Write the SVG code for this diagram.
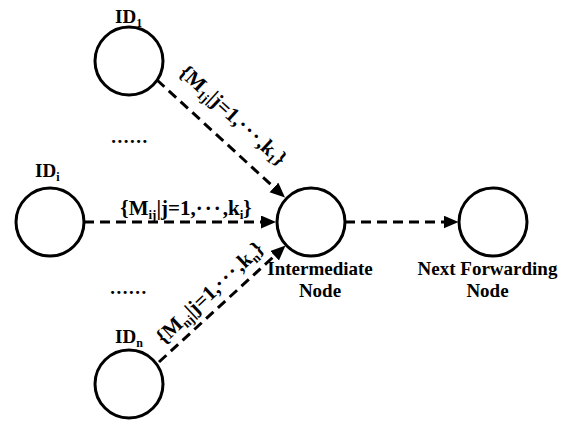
<svg xmlns="http://www.w3.org/2000/svg" width="566" height="421" viewBox="0 0 566 421">
<defs>
<marker id="arr" markerUnits="userSpaceOnUse" markerWidth="16" markerHeight="14" refX="2" refY="6.5" orient="auto">
<path d="M0,0 L15,6.5 L0,13 z" fill="#000"/>
</marker>
<style>
.node{fill:#fff;stroke:#000;stroke-width:3}
.edge{fill:none;stroke:#000;stroke-width:3;stroke-dasharray:10,6;marker-end:url(#arr)}
text{font-family:"Liberation Serif","Times New Roman",serif;font-weight:bold;font-size:19px;fill:#000}
.lbl{font-size:21px}
.sub{font-size:12px}
.lsub{font-size:13px}
.dots{letter-spacing:2px}
</style>
</defs>
<rect width="566" height="421" fill="#fff"/>
<g id="connectors">
<line class="edge" x1="157" y1="80" x2="275.4" y2="188.7"/>
<line class="edge" x1="84" y1="222" x2="263" y2="222"/>
<line class="edge" x1="159" y1="362" x2="276" y2="254.4"/>
<line class="edge" x1="345" y1="222" x2="445.5" y2="222"/>
<text class="lbl" transform="translate(228.5,120.3) rotate(42.5)" text-anchor="middle">{M<tspan class="lsub" dy="4">1j</tspan><tspan dy="-4">|j=1,</tspan><tspan class="dots">···</tspan>,k<tspan class="lsub" dy="4">1</tspan><tspan dy="-4">}</tspan></text>
<text class="lbl" x="186" y="215" text-anchor="middle">{M<tspan class="lsub" dy="4">ij</tspan><tspan dy="-4">|j=1,</tspan><tspan class="dots">···</tspan>,k<tspan class="lsub" dy="4">i</tspan><tspan dy="-4">}</tspan></text>
<text class="lbl" transform="translate(214.3,297.6) rotate(-43.1)" text-anchor="middle">{M<tspan class="lsub" dy="4">nj</tspan><tspan dy="-4">|j=1,</tspan><tspan class="dots">···</tspan>,k<tspan class="lsub" dy="4">n</tspan><tspan dy="-4">}</tspan></text>
</g>
<g id="node-id1">
<circle class="node" cx="129" cy="61" r="34"/>
<text x="115" y="23">ID<tspan class="sub" dy="4">1</tspan></text>
</g>
<g id="dots-top"><text x="130" y="143" text-anchor="middle" letter-spacing="1.5">......</text></g>
<g id="node-idi">
<circle class="node" cx="50" cy="222" r="34"/>
<text x="35" y="177">ID<tspan class="sub" dy="4">i</tspan></text>
</g>
<g id="dots-bottom"><text x="129" y="294" text-anchor="middle" letter-spacing="1.5">......</text></g>
<g id="node-idn">
<circle class="node" cx="129" cy="384" r="34"/>
<text x="115" y="343">ID<tspan class="sub" dy="4">n</tspan></text>
</g>
<g id="node-intermediate">
<circle class="node" cx="311" cy="222" r="34"/>
<text x="320" y="275" text-anchor="middle">Intermediate</text>
<text x="320" y="297" text-anchor="middle">Node</text>
</g>
<g id="node-next">
<circle class="node" cx="493" cy="222" r="34"/>
<text x="487.5" y="275" text-anchor="middle">Next Forwarding</text>
<text x="487.5" y="297" text-anchor="middle">Node</text>
</g>
</svg>
